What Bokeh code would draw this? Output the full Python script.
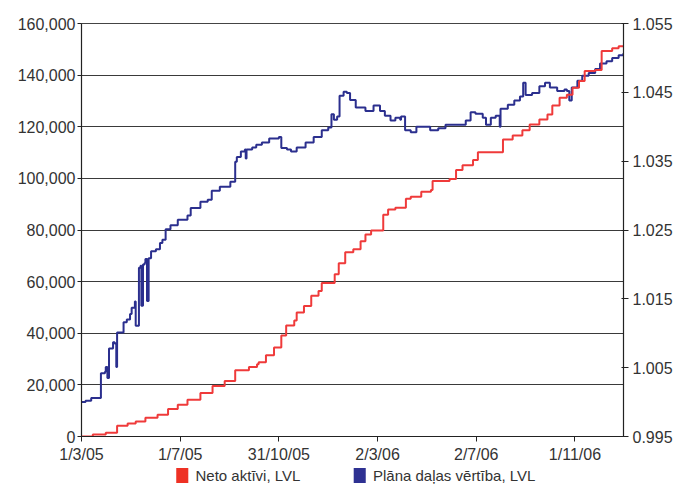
import pandas as pd
from bokeh.plotting import figure
from bokeh.layouts import column
from bokeh.models import (Range1d, LinearAxis, FixedTicker, NumeralTickFormatter)
from bokeh.core.properties import value
from bokeh.embed import file_html
from bokeh.resources import INLINE

# ---- data ----
start_date = "2005-03-01"
end_date = "2006-12-31"

# Neto aktīvi, LVL (left axis); days counted from start_date
neto_day = [0, 14, 30, 44, 57, 67, 79, 94, 107, 119, 131, 147, 162, 177, 190, 207, 217,
            219, 228, 238, 247, 253, 263, 266, 275, 284, 293, 297, 313, 318, 326, 336,
            345, 351, 358, 373, 379, 388, 401, 407, 420, 432, 434, 455, 463, 471, 484,
            490, 521, 533, 545, 554, 566, 576, 582, 591, 600, 607, 615, 622, 635, 643,
            656, 664, 670]
neto_lvl = [0, 800, 1500, 4200, 5000, 5800, 7300, 8400, 10700, 12300, 14200, 16900,
            19600, 21500, 25700, 26900, 28000, 28800, 31500, 34500, 39100, 43000, 44900,
            48000, 50600, 54500, 56400, 59500, 62900, 67100, 71400, 72500, 75600, 78300,
            79800, 85900, 87900, 88600, 92100, 92900, 94800, 95500, 99000, 99800, 103200,
            105100, 107100, 110100, 115100, 116600, 118600, 120900, 122800, 124700,
            128200, 131200, 132400, 135100, 137700, 141600, 142000, 149300, 150400,
            151200, 151500]

# Plāna daļas vērtība, LVL (right axis)
plan_day = [0, 5, 12, 22, 24, 29, 30, 32, 34, 39, 41, 43, 44, 49, 52, 56, 60, 62, 66, 67,
            71, 73, 74, 76, 78, 79, 81, 83, 86, 92, 97, 100, 104, 110, 119, 131, 135, 147,
            156, 161, 171, 184, 189, 190, 192, 197, 202, 203, 204, 211, 216, 223, 232,
            244, 247, 254, 259, 266, 277, 287, 297, 305, 309, 312, 316, 319, 324, 328,
            332, 339, 351, 361, 369, 375, 382, 388, 394, 395, 400, 407, 414, 425, 431,
            441, 450, 463, 475, 481, 487, 496, 500, 506, 512, 517, 518, 527, 535, 542,
            546, 549, 557, 566, 573, 579, 588, 597, 600, 603, 606, 613, 619, 627, 635,
            641, 649, 656, 664, 670]
plan_val = [1.0000, 1.0002, 1.0006, 1.0006, 1.0042, 1.0044, 1.0051, 1.0035, 1.0078,
            1.0087, 1.0085, 1.0051, 1.0101, 1.0101, 1.0116, 1.0120, 1.0128, 1.0137,
            1.0146, 1.0111, 1.0195, 1.0198, 1.0140, 1.0200, 1.0202, 1.0208, 1.0147,
            1.0209, 1.0219, 1.0222, 1.0231, 1.0236, 1.0251, 1.0257, 1.0265, 1.0271,
            1.0282, 1.0291, 1.0294, 1.0307, 1.0313, 1.0320, 1.0320, 1.0349, 1.0356,
            1.0364, 1.0367, 1.0354, 1.0367, 1.0370, 1.0374, 1.0377, 1.0383, 1.0385,
            1.0369, 1.0367, 1.0364, 1.0370, 1.0377, 1.0385, 1.0395, 1.0399, 1.0418,
            1.0410, 1.0415, 1.0445, 1.0451, 1.0449, 1.0439, 1.0428, 1.0423, 1.0431,
            1.0423, 1.0416, 1.0409, 1.0413, 1.0410, 1.0415, 1.0395, 1.0392, 1.0400,
            1.0400, 1.0395, 1.0398, 1.0403, 1.0403, 1.0409, 1.0421, 1.0419, 1.0413,
            1.0403, 1.0413, 1.0416, 1.0400, 1.0426, 1.0432, 1.0438, 1.0444, 1.0464,
            1.0446, 1.0449, 1.0459, 1.0464, 1.0457, 1.0452, 1.0454, 1.0452, 1.0438,
            1.0457, 1.0467, 1.0474, 1.0478, 1.0484, 1.0492, 1.0495, 1.0500, 1.0504,
            1.0507]

tick_dates = ["2005-03-01", "2005-07-01", "2005-10-31", "2006-03-02", "2006-07-02",
              "2006-11-01"]
tick_labels = ["1/3/05", "1/7/05", "31/10/05", "2/3/06", "2/7/06", "1/11/06"]
left_ticks = [0, 20000, 40000, 60000, 80000, 100000, 120000, 140000, 160000]
right_ticks = [0.995, 1.005, 1.015, 1.025, 1.035, 1.045, 1.055]

series_names = ["Neto aktīvi, LVL", "Plāna daļas vērtība, LVL"]
series_colors = ["#ef3a3a", "#2b2f8e"]
legend_colors = ["#ee3124", "#2e3192"]

# ---- build ----
t0 = pd.Timestamp(start_date)
neto_x = list(t0 + pd.to_timedelta(neto_day, unit="D"))
plan_x = list(t0 + pd.to_timedelta(plan_day, unit="D"))

FONT = "Liberation Sans"
TXT = "#333333"
W = 675

p = figure(width=W, height=465, x_axis_type="datetime",
           x_range=Range1d(pd.Timestamp(start_date), pd.Timestamp(end_date)),
           y_range=Range1d(0, 160000),
           output_backend="svg", toolbar_location=None,
           min_border_left=81, min_border_right=49, min_border_top=23,
           min_border_bottom=28)
p.extra_y_ranges = {"r": Range1d(0.995, 1.055)}
p.background_fill_color = "white"
p.border_fill_color = "white"
p.outline_line_color = "#444444"

p.xgrid.grid_line_color = None
p.ygrid.grid_line_color = "#3a3a3a"
p.ygrid.grid_line_width = 1
p.ygrid.ticker = FixedTicker(ticks=left_ticks)

# x axis
tick_ms = [int(pd.Timestamp(d).value // 10**6) for d in tick_dates]
xa = p.xaxis[0]
xa.ticker = FixedTicker(ticks=tick_ms)
xa.major_label_overrides = {m: l for m, l in zip(tick_ms, tick_labels)}

# left axis
ya = p.yaxis[0]
ya.ticker = FixedTicker(ticks=left_ticks)
ya.formatter = NumeralTickFormatter(format="0,0")

# right axis
ra = LinearAxis(y_range_name="r", ticker=FixedTicker(ticks=right_ticks),
                formatter=NumeralTickFormatter(format="0.000"))
p.add_layout(ra, "right")

for ax, tin, tout, so in [(xa, 0, 5, 4), (ya, 0, 4, 2), (ra, 2, 5, 4)]:
    ax.axis_line_color = "#222222"
    ax.axis_line_width = 1.2
    ax.major_tick_line_color = "#222222"
    ax.major_tick_in = tin
    ax.major_tick_out = tout
    ax.major_label_standoff = so
    ax.minor_tick_line_color = None
    ax.major_label_text_font = FONT
    ax.major_label_text_font_size = "16px"
    ax.major_label_text_color = TXT

# lines
p.step(plan_x, plan_val, mode="after", line_width=2, line_color=series_colors[1],
       y_range_name="r")
p.step(neto_x, neto_lvl, mode="after", line_width=2, line_color=series_colors[0])

# legend strip below the chart (pixel-space helper figure)
LH = 20
lg = figure(width=W, height=LH, x_range=Range1d(0, W), y_range=Range1d(0, LH),
            output_backend="svg", toolbar_location=None,
            x_axis_location=None, y_axis_location=None, min_border=0)
lg.grid.grid_line_color = None
lg.outline_line_color = None
lg.background_fill_color = "white"
lg.border_fill_color = "white"

key_left = [118, 339]
key_size = 15
lg.quad(left=key_left, right=[k + key_size for k in key_left],
        bottom=[2.5] * 2, top=[2.5 + key_size] * 2,
        fill_color=legend_colors, line_color=None)
lg.text(x=[k + key_size + 9 for k in key_left], y=[LH / 2] * 2, text=series_names,
        text_font=value(FONT), text_font_size="15px", text_color=TXT,
        text_baseline="middle", text_align="left")

layout = column(p, lg, spacing=0)
open("out.html", "w").write(file_html(layout, INLINE))
